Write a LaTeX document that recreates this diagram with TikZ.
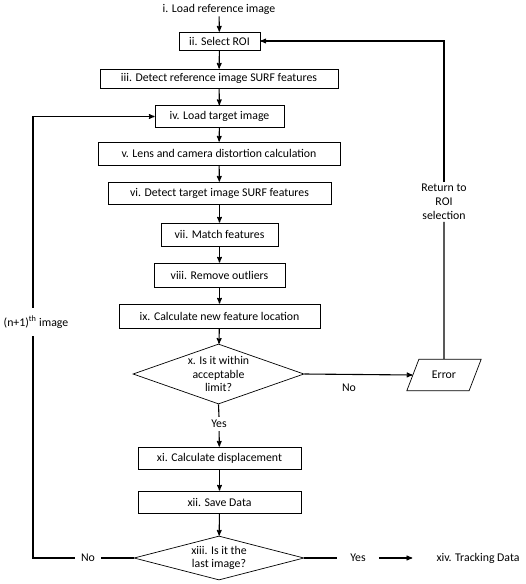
\documentclass[tikz,border=0pt]{standalone}
\usepackage{fontspec}
\setmainfont{Carlito}
\usetikzlibrary{arrows,shapes.geometric}
\tikzset{
  flownode/.style = {align=center, inner sep=0pt, text centered,
    font=\fontsize{11.8}{13.8}\selectfont},
  fc_box/.style = {flownode, rectangle, draw=black, line width=0.7pt,
    minimum height=22pt},% step box
  fc_dia/.style = {flownode, diamond, draw=black, line width=0.7pt},% decision
  fc_err/.style = {flownode, trapezium, draw=black, line width=0.7pt,
    trapezium left angle=69, trapezium right angle=111,
    inner xsep=13pt, inner ysep=12pt},% error output
  fc_lbl/.style = {flownode, inner xsep=8pt, inner ysep=3pt},% connector label
  link/.style = {line width=1.1pt}
}
\begin{document}
\begin{tikzpicture}[x=1pt,y=-1pt,->,>=stealth']
\useasboundingbox (0,0) rectangle (526,584);
% main column
\node [flownode, inner ysep=2pt] (s_i) at (219,9) {i. Load reference image};
\node [fc_box, minimum width=81pt, minimum height=18pt] (s_ii) at (219.5,41) {ii. Select ROI};
\node [fc_box, minimum width=238pt, minimum height=19pt] (s_iii) at (219,78.5) {iii. Detect reference image SURF features};
\node [fc_box, minimum width=129pt] (s_iv) at (219.5,116.5) {iv. Load target image};
\node [fc_box, minimum width=242pt, minimum height=23pt] (s_v) at (219,153.5) {v. Lens and camera distortion calculation};
\node [fc_box, minimum width=223pt] (s_vi) at (219.5,193) {vi. Detect target image SURF features};
\node [fc_box, minimum width=117pt, minimum height=23pt] (s_vii) at (219.5,234.5) {vii. Match features};
\node [fc_box, minimum width=131pt, minimum height=24pt] (s_viii) at (219.5,275) {viii. Remove outliers};
\node [fc_box, minimum width=201pt, minimum height=24pt] (s_ix) at (219.5,316) {ix. Calculate new feature location};
\node [fc_dia, aspect=2.85, inner sep=-3pt, minimum width=171pt, minimum height=60pt] (s_x) at (218.5,374) {x. Is it within\\acceptable\\limit?};
\node [fc_lbl] (yes_x) at (219,424) {Yes};
\node [fc_box, minimum width=163pt] (s_xi) at (219.5,458) {xi. Calculate displacement};
\node [fc_box, minimum width=163pt] (s_xii) at (219.5,502) {xii. Save Data};
\node [fc_dia, aspect=3.86, inner sep=0pt, minimum width=170pt, minimum height=44pt] (s_xiii) at (219,558) {xiii. Is it the\\last image?};
% right side
\node [fc_err] (err) at (444,375) {Error};
\node [flownode] (no_x) at (349,388) {No};
\node [flownode, inner ysep=2pt] (back) at (444,202) {Return to\\ROI\\selection};
\node [fc_lbl, inner xsep=13pt] (yes_xiii) at (358,558) {Yes};
\node [flownode, inner xsep=24pt] (s_xiv) at (478,558) {xiv. Tracking Data};
% left side
\node [fc_lbl, inner xsep=6pt] (no_xiii) at (88,558) {No};
\node [flownode, inner ysep=8pt] (next) at (36,322) {(n+1)\textsuperscript{th} image};
\coordinate (lp_bot) at (33,558);
% connectors
\draw [link] (s_i) -- (s_ii);
\draw [link] (s_ii) -- (s_iii);
\draw [link] (s_iii) -- (s_iv);
\draw [link] (s_iv) -- (s_v);
\draw [link] (s_v) -- (s_vi);
\draw [link] (s_vi) -- (s_vii);
\draw [link] (s_vii) -- (s_viii);
\draw [link] (s_viii) -- (s_ix);
\draw [link] (s_ix) -- (s_x);
\draw [link,-] (s_x.south) -- (yes_x.north);
\draw [link] (yes_x) -- (s_xi);
\draw [link] (s_xi) -- (s_xii);
\draw [link] (s_xii) -- (s_xiii);
\draw [link] (s_x.east) -- (err.west);
\draw [link,-] (err.north) -- (back.south);
\draw [link] (back.north) |- (s_ii.east);
\draw [link,-] (s_xiii.east) -- (yes_xiii.west);
\draw [link] (yes_xiii.east) -- (s_xiv.west);
\draw [link,-] (s_xiii.west) -- (no_xiii.east);
\draw [link,-] (no_xiii.west) -- (lp_bot) -- (next.south -| lp_bot);
\draw [link] (next.north -| lp_bot) |- (s_iv.west);
\end{tikzpicture}
\end{document}
